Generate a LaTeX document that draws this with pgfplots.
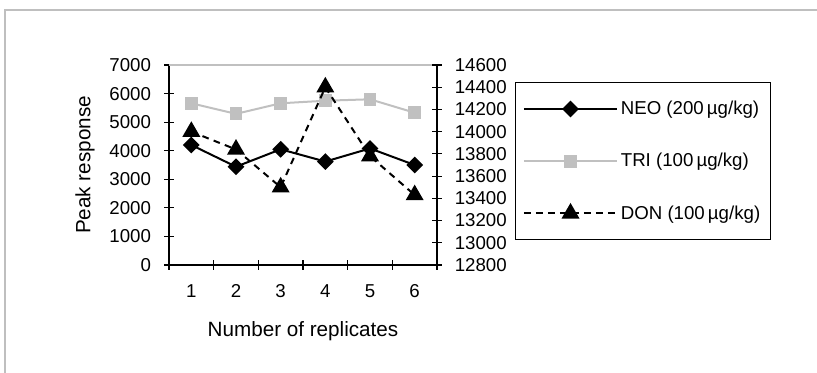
\documentclass[border=0pt]{standalone}
\usepackage{pgfplots}
\pgfplotsset{compat=1.18}
\usepackage{fontspec}
\setmainfont{Liberation Sans}
\definecolor{trigray}{HTML}{C0C0C0}
\definecolor{framegray}{HTML}{BFBFBF}
\begin{document}
\begin{tikzpicture}
\useasboundingbox (0,0) rectangle (612.75pt,279pt);
\draw[framegray, line width=1.5pt] (3.75pt,-20pt) -- (3.75pt,271.5pt) -- (640pt,271.5pt);
\pgfplotsset{
  common/.style={
    scale only axis, width=201pt, height=150pt,
    at={(126.75pt,80.25pt)}, anchor=south west,
    xmin=0.5, xmax=6.5,
    /pgf/number format/assume math mode=true,
    /pgf/number format/1000 sep={},
    scaled y ticks=false,
    tick label style={font=\fontsize{14}{16}\selectfont},
    tick align=center, major tick length=7pt,
    axis line style={line width=1pt, black},
    tick style={line width=0.8pt, black},
    clip=false,
  }
}
\begin{axis}[common,
  axis x line*=bottom, axis y line*=left,
  ymin=0, ymax=7000, ytick={0,1000,...,7000},
  xtick={0.5,1.5,...,6.5}, xticklabels={},
  extra x ticks={1,2,3,4,5,6}, extra x tick labels={1,2,3,4,5,6},
  extra x tick style={major tick length=0pt, xticklabel style={yshift=-11.2pt}},
  yticklabel style={xshift=-6.5pt},
  xlabel={Number of replicates}, ylabel={Peak response},
  every axis x label/.style={at={(axis description cs:0.5,-0.33)},anchor=center,font=\fontsize{15.5}{18}\selectfont},
  every axis y label/.style={at={(axis description cs:-0.313,0.5)},rotate=90,anchor=center,font=\fontsize{15.5}{18}\selectfont},
]
\draw[trigray, line width=1pt] (rel axis cs:0,1) -- (rel axis cs:1,1);
\addplot[trigray, line width=1.5pt, mark=square*, mark size=4.1pt] coordinates {(1,5660) (2,5290) (3,5660) (4,5750) (5,5800) (6,5330)};
\addplot[black, line width=1.5pt, mark=square*, mark size=3.7pt, mark options={rotate=45, solid}] coordinates {(1,4200) (2,3440) (3,4050) (4,3620) (5,4080) (6,3500)};
\end{axis}
\begin{axis}[common,
  axis x line=none, axis y line*=right,
  ymin=12800, ymax=14600, ytick distance=200,
  yticklabel style={xshift=6.3pt},
  legend style={at={(axis description cs:1.291,0.915)}, anchor=north west, draw=black, line width=0.8pt,
    font=\fontsize{14}{16}\selectfont, inner xsep=5.5pt, inner ysep=12pt, row sep=23.5pt,
    nodes={inner sep=2pt}, cells={anchor=west}},
  legend image code/.code={\draw[#1, mark repeat=2, mark phase=2] plot coordinates {(0pt,0pt) (35pt,0pt) (70pt,0pt)};},
]
\addlegendimage{black, line width=1.5pt, mark=square*, mark size=3.7pt, mark options={rotate=45, solid}}
\addlegendentry{NEO (200\,µg/kg)}
\addlegendimage{trigray, line width=1.5pt, mark=square*, mark size=4.1pt}
\addlegendentry{TRI (100\,µg/kg)}
\addplot[black, line width=1.5pt, dash pattern=on 5pt off 4pt, mark=triangle*, mark size=6.3pt, mark options={solid}] coordinates {(1,14000) (2,13840) (3,13500) (4,14400) (5,13780) (6,13430)};
\addlegendentry{DON (100\,µg/kg)}
\end{axis}
\end{tikzpicture}
\end{document}
